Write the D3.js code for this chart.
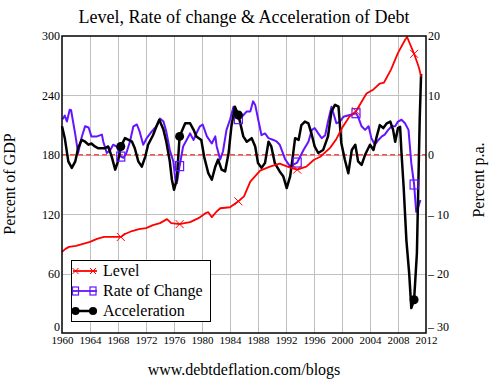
<!DOCTYPE html>
<html><head><meta charset="utf-8">
<script src="https://cdn.jsdelivr.net/npm/d3@7/dist/d3.min.js"></script>
<style>
body{margin:0;background:#fff}
svg{display:block}
svg text{font-family:"Liberation Serif",serif !important;fill:#000}
</style>
</head><body>
<svg id="c" width="504" height="391"></svg>
<script>
// ---- data (year, value) ----
const levelSeries = [[1960,82],[1960.5,85],[1961,87],[1962,88],[1963,90],[1964,92],[1965,95],[1966,97],[1967,97],[1968.4,97],[1969,100],[1970,103],[1971,105],[1972,106],[1973,109],[1974,111],[1975,115],[1975.6,111],[1976.8,110],[1977.5,111],[1978.3,112],[1979.5,116],[1980.5,121],[1980.9,122],[1981.4,117],[1982,122],[1982.6,126],[1984,127],[1985.2,133],[1986,138],[1986.9,153],[1988.3,164],[1989.7,168],[1991.1,171],[1992.6,167],[1993.6,165],[1994.9,168],[1996,175],[1996.9,178],[1998.3,187],[1999.2,196],[2000,207],[2001,218],[2002,224],[2003.5,242],[2004.5,246],[2005.4,252],[2006,253],[2007,266],[2008,283],[2009,296],[2009.3,299],[2010.3,282],[2011,268],[2011.3,259]];
const rateSeries = [[1960.1,6.0],[1960.4,6.6],[1960.7,5.6],[1961.1,7.6],[1961.3,7.5],[1961.9,3.4],[1962.3,0.3],[1962.8,2.9],[1963.3,4.8],[1963.8,4.6],[1964.2,3.1],[1965,3.1],[1965.7,3.4],[1965.9,2.2],[1966.4,0.3],[1966.9,0.8],[1967.3,1.7],[1967.8,1.4],[1968.4,-0.3],[1968.8,-0.5],[1969.2,0.3],[1969.7,2.2],[1970.2,4.8],[1970.7,5.1],[1971.1,3.9],[1971.6,1.7],[1972.1,2.8],[1972.8,3.9],[1973.5,4.8],[1974,6.1],[1974.5,5.6],[1974.9,3.9],[1975.4,0.8],[1975.9,-1.1],[1976.2,-4.2],[1976.4,-4.8],[1976.8,-1.9],[1977.3,1.4],[1977.8,2.5],[1978.3,3.6],[1978.8,2.5],[1979.2,3.6],[1979.7,4.8],[1980.1,5.1],[1980.7,3.1],[1981.4,1.9],[1981.9,3.1],[1982.1,1.4],[1982.6,-0.8],[1983,0.6],[1983.5,4.2],[1984,5.9],[1984.5,8.1],[1985.2,6.0],[1985.7,6.4],[1986.4,7.3],[1986.9,7.3],[1987.3,9.0],[1987.6,8.4],[1988,6.1],[1988.5,3.3],[1989,3.6],[1989.5,2.8],[1990.2,2.5],[1990.7,2.2],[1991.1,1.7],[1991.9,-0.8],[1992.6,-2.0],[1993,-1.7],[1993.6,-1.3],[1994.5,0.8],[1995.2,2.2],[1995.7,4.2],[1996.1,4.5],[1996.6,3.6],[1997.1,2.8],[1997.6,3.3],[1998,5.6],[1998.5,8.1],[1999.2,5.3],[1999.7,5.6],[2000.2,6.4],[2001.1,6.7],[2002,7.0],[2002.3,6.4],[2002.8,4.8],[2003.3,4.2],[2003.8,4.8],[2004.2,2.8],[2004.7,1.7],[2005.2,2.5],[2005.7,3.1],[2006.1,3.4],[2006.6,4.2],[2007.1,4.8],[2007.6,4.8],[2008,5.6],[2008.5,5.9],[2009,5.3],[2009.5,4.2],[2009.7,1.4],[2009.9,-1.4],[2010.3,-5.0],[2010.6,-9.6],[2010.9,-8.8],[2011.2,-7.6]];
const accelSeries = [[1960,4.8],[1960.4,2.8],[1960.9,-1.1],[1961.4,-2.2],[1961.9,-1.1],[1962.3,1.1],[1962.8,2.5],[1963.3,2.2],[1963.8,1.7],[1964.2,1.9],[1964.7,1.4],[1965.2,1.1],[1965.7,1.1],[1966.1,1.1],[1966.6,1.4],[1967.1,-0.3],[1967.6,-2.5],[1968,-1.1],[1968.4,1.4],[1969,2.8],[1969.5,2.5],[1970,2.2],[1970.4,1.1],[1970.9,-1.1],[1971.4,-2.0],[1971.9,-0.3],[1972.3,1.7],[1973,3.3],[1973.5,4.8],[1973.9,5.9],[1974.5,4.2],[1974.9,2.2],[1975.4,-1.1],[1975.7,-4.2],[1976,-5.9],[1976.4,-4.2],[1976.8,3.1],[1977.6,5.3],[1978.3,5.3],[1978.8,4.2],[1979.2,3.1],[1979.9,2.5],[1980.3,-0.3],[1980.9,-3.1],[1981.4,-4.2],[1981.9,-2.0],[1982.3,-0.8],[1982.8,-2.5],[1983.3,-2.8],[1983.8,0.3],[1984.2,4.8],[1984.7,8.1],[1985.2,6.7],[1985.9,3.1],[1986.4,2.2],[1987.1,2.8],[1987.6,1.4],[1988,-1.4],[1988.5,-2.2],[1989,-1.4],[1989.5,2.2],[1989.9,1.4],[1990.4,-1.4],[1991.1,-2.8],[1991.6,-3.6],[1992.1,-5.6],[1992.6,-3.6],[1993,0],[1993.3,2.8],[1993.8,2.5],[1994.2,5.0],[1994.7,5.6],[1995.2,5.3],[1995.7,3.3],[1996.1,1.4],[1996.6,0.3],[1997.3,0.8],[1998,3.1],[1998.5,7.3],[1999,8.4],[1999.5,8.1],[1999.9,2.0],[2000.4,-0.8],[2000.9,-3.1],[2001.4,0.8],[2001.9,1.7],[2002.3,-1.1],[2002.8,-1.7],[2003.3,0],[2004,1.7],[2004.5,0.8],[2004.9,2.8],[2005.4,5.0],[2005.9,4.5],[2006.4,5.3],[2006.9,5.6],[2007.3,4.2],[2007.6,2.2],[2008,4.5],[2008.3,4.7],[2008.5,0.3],[2008.8,-5.3],[2009.2,-14.4],[2009.6,-20.0],[2009.9,-25.8],[2010.3,-24.4],[2010.7,-16.6],[2010.9,-5.3],[2011.1,5.9],[2011.3,13.6]];
const levelMarkerYears = [1968.4,1976.8,1985.2,1993.6,2002,2010.3];
const rateMarkerYears = [1968.4,1976.8,1985.2,1993.6,2002,2010.3];
const accelMarkerYears = [1968.4,1976.8,1985.2,2010.3];
const xTicks = [1960,1964,1968,1972,1976,1980,1984,1988,1992,1996,2000,2004,2008,2012];
const leftTicks = [0,60,120,180,240,300];
const rightTicks = [-30,-20,-10,0,10,20];
const legendLabels = ["Level","Rate of Change","Acceleration"];
const titleText = "Level, Rate of change & Acceleration of Debt";
const footerText = "www.debtdeflation.com/blogs";

// ---- layout ----
const L=62, R=426, T=36, B=333;
const RED="#ff0000", BLUE="#6414ff", BLACK="#000";
const FONT="Liberation Serif";
const svg=d3.select("#c");
const x=d3.scaleLinear().domain([1960,2012]).range([L,R]);
const yL=d3.scaleLinear().domain([0,300]).range([B,T]);
const yR=d3.scaleLinear().domain([-30,20]).range([B,T]);

// grid
const grid=svg.append("g").attr("stroke","#c0c0c0").attr("stroke-width",1);
xTicks.filter(t=>t>1960&&t<2012).forEach(t=>{
  grid.append("line").attr("x1",Math.round(x(t))+0.5).attr("x2",Math.round(x(t))+0.5).attr("y1",T).attr("y2",B);
});
leftTicks.filter(t=>t>0&&t<300).forEach(t=>{
  grid.append("line").attr("x1",L).attr("x2",R).attr("y1",Math.round(yL(t))+0.5).attr("y2",Math.round(yL(t))+0.5);
});
// zero line
svg.append("line").attr("x1",L).attr("x2",R).attr("y1",yR(0)).attr("y2",yR(0))
  .attr("stroke",RED).attr("stroke-width",1).attr("stroke-dasharray","5,3");

// axes (labels only)
const axL=svg.append("g").attr("transform",`translate(${L},0)`)
  .call(d3.axisLeft(yL).tickValues(leftTicks).tickSize(0).tickPadding(2));
const axR=svg.append("g").attr("transform",`translate(${R},0)`)
  .call(d3.axisRight(yR).tickValues(rightTicks).tickSize(0).tickPadding(2)
    .tickFormat(v=>v<0?"\u2013 "+Math.abs(v):String(v)));
const axB=svg.append("g").attr("transform",`translate(0,${B})`)
  .call(d3.axisBottom(x).tickValues(xTicks).tickSize(0).tickPadding(3).tickFormat(d3.format("d")));
[axL,axR,axB].forEach(a=>{
  a.attr("font-family",FONT).attr("font-size",null);
  a.select(".domain").remove();
  a.selectAll("text").style("font-family",FONT).attr("fill","#000");
});
axL.selectAll("text").style("font-size","12px");
axR.selectAll("text").style("font-size","12px");
axB.selectAll("text").style("font-size","11px");
axL.selectAll(".tick").filter(d=>d===0).select("text").attr("y",-6);
axR.selectAll(".tick").filter(d=>d===-30).select("text").attr("y",-6);

// lines
const lineL=d3.line().x(d=>x(d[0])).y(d=>yL(d[1]));
const lineR=d3.line().x(d=>x(d[0])).y(d=>yR(d[1]));
svg.append("path").datum(rateSeries).attr("d",lineR).attr("fill","none").attr("stroke",BLUE).attr("stroke-width",2).attr("stroke-linejoin","round");
svg.append("path").datum(accelSeries).attr("d",lineR).attr("fill","none").attr("stroke",BLACK).attr("stroke-width",2.5).attr("stroke-linejoin","round");
svg.append("path").datum(levelSeries).attr("d",lineL).attr("fill","none").attr("stroke",RED).attr("stroke-width",1.8).attr("stroke-linejoin","round");

// markers
const near=(arr)=>d=>arr.some(m=>Math.abs(m-d[0])<1e-6);
svg.append("g").selectAll("rect").data(rateSeries.filter(near(rateMarkerYears))).join("rect")
  .attr("x",d=>x(d[0])-4).attr("y",d=>yR(d[1])-4.5).attr("width",8).attr("height",9)
  .attr("fill","none").attr("stroke",BLUE).attr("stroke-width",1.2);
svg.append("g").selectAll("circle").data(accelSeries.filter(near(accelMarkerYears))).join("circle")
  .attr("cx",d=>x(d[0])).attr("cy",d=>yR(d[1])).attr("r",4.5).attr("fill",BLACK);
svg.append("g").selectAll("path").data(levelSeries.filter(near(levelMarkerYears))).join("path")
  .attr("transform",d=>`translate(${x(d[0])},${yL(d[1])})`)
  .attr("d","M-4,-4L4,4M-4,4L4,-4").attr("stroke",RED).attr("stroke-width",1).attr("fill","none");

// frame
svg.append("rect").attr("x",L).attr("y",T).attr("width",R-L).attr("height",B-T)
  .attr("fill","none").attr("stroke","#000").attr("stroke-width",1.5);

// legend
const lg=svg.append("g");
lg.append("rect").attr("x",71.5).attr("y",260.5).attr("width",139).attr("height",61)
  .attr("fill","#fff").attr("stroke","#000").attr("stroke-width",1);
const lgColors=[RED,BLUE,BLACK];
legendLabels.forEach((lab,i)=>{
  const cy=271+i*20;
  lg.append("line").attr("x1",73).attr("x2",97).attr("y1",cy).attr("y2",cy)
    .attr("stroke",lgColors[i]).attr("stroke-width",i===2?2.5:1.8);
  [75.5,93].forEach(mx=>{
    if(i===0) lg.append("path").attr("transform",`translate(${mx},${cy})`).attr("d","M-3,-3L3,3M-3,3L3,-3").attr("stroke",RED).attr("stroke-width",1);
    if(i===1) lg.append("rect").attr("x",mx-3).attr("y",cy-4).attr("width",6).attr("height",8).attr("fill","none").attr("stroke",BLUE).attr("stroke-width",1.2);
    if(i===2) lg.append("circle").attr("cx",mx).attr("cy",cy).attr("r",4).attr("fill",BLACK);
  });
  lg.append("text").attr("x",103).attr("y",cy+5).style("font-family",FONT).style("font-size","16px").text(lab);
});

// titles
svg.append("text").attr("x",244).attr("y",23).attr("text-anchor","middle").style("font-family",FONT).style("font-size","18px").text(titleText);
svg.append("text").attr("x",244).attr("y",375).attr("text-anchor","middle").style("font-family",FONT).style("font-size","16px").text(footerText);
svg.append("text").attr("transform","translate(15,184) rotate(-90)").attr("text-anchor","middle").style("font-family",FONT).style("font-size","16px").text("Percent of GDP");
svg.append("text").attr("transform","translate(484,180) rotate(-90)").attr("text-anchor","middle").style("font-family",FONT).style("font-size","16px").text("Percent p.a.");
</script>
</body></html>
